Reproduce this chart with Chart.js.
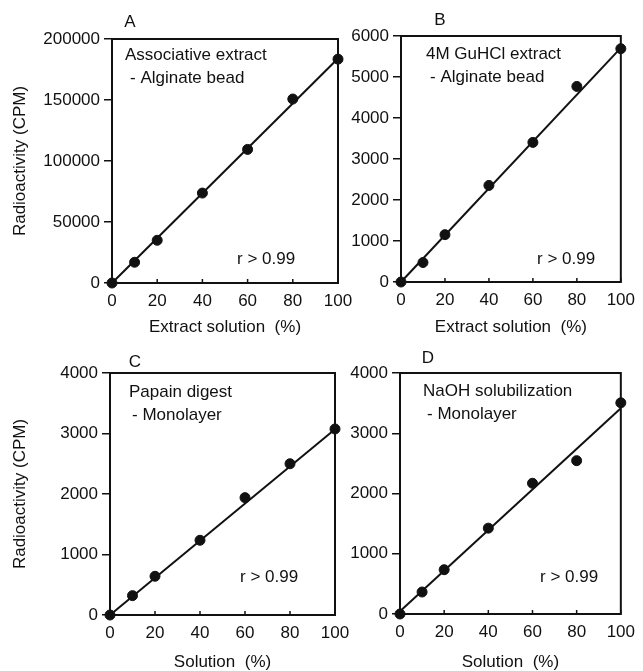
<!DOCTYPE html>
<html>
<head>
<meta charset="utf-8">
<title>Radioactivity vs. solution</title>
<script src="https://cdn.jsdelivr.net/npm/chart.js@4.4.1/dist/chart.umd.min.js"></script>
<style>
  html, body { margin: 0; padding: 0; background: #fff; }
  #wrap { position: relative; width: 643px; height: 671px; }
  #wrap canvas { position: absolute; left: 0; top: 0; }
</style>
</head>
<body>
<div id="wrap">
  <canvas id="chartA" width="643" height="671"></canvas>
  <canvas id="chartB" width="643" height="671"></canvas>
  <canvas id="chartC" width="643" height="671"></canvas>
  <canvas id="chartD" width="643" height="671"></canvas>
</div>
<script>
// values
const percent = [0, 10, 20, 40, 60, 80, 100]
const cpmA = [0, 17000, 35000, 73700, 109500, 150800, 183500]
const cpmB = [0, 475, 1155, 2355, 3405, 4770, 5690]
const cpmC = [0, 320, 640, 1235, 1940, 2500, 3075]
const cpmD = [0, 365, 735, 1425, 2170, 2545, 3505]

// regression lines, value at 0% and at 100%
const fitEnds = [0, 100]
const fitA = [0, 184000]
const fitB = [0, 5710]
const fitC = [0, 3070]
const fitD = [45, 3415]

// tick labels
const xTicks = [0, 20, 40, 60, 80, 100]
const yTicksA = [0, 50000, 100000, 150000, 200000]
const yTicksB = [0, 1000, 2000, 3000, 4000, 5000, 6000]
const yTicksCD = [0, 1000, 2000, 3000, 4000]

const letters = ["A", "B", "C", "D"]
const sampleLabels = [
  ["Associative extract", "- Alginate bead"],
  ["4M GuHCl extract", "- Alginate bead"],
  ["Papain digest", "- Monolayer"],
  ["NaOH solubilization", "- Monolayer"],
]
const rLabel = "r > 0.99"
const xTitles = ["Extract solution  (%)", "Extract solution  (%)", "Solution  (%)", "Solution  (%)"]
const yTitle = "Radioactivity (CPM)"

const FONT = "'Liberation Sans', Arial, Helvetica, sans-serif"
const INK = "#111"
Chart.defaults.font.family = FONT
Chart.defaults.font.size = 17
Chart.defaults.color = INK

// where each panel sits on the page (chart area l, t, r, b)
const layouts = [
  { area: [112, 39, 338, 283], axisLeft: 0, axisBottom: 335.5, yTitle: true, letter: [18, -17], note: [13, 16, 5], rNote: [125, -24] },
  { area: [401, 36, 628, 282], axisLeft: 345, axisBottom: 335.5, yTitle: false, letter: [39, -16], note: [25, 18, 4], rNote: [136, -23] },
  { area: [110, 373, 335, 615], axisLeft: 0, axisBottom: 671, yTitle: true, letter: [25, -11], note: [19, 19, 3], rNote: [130, -38] },
  { area: [400, 373, 627, 614], axisLeft: 345, axisBottom: 671, yTitle: false, letter: [28, -15], note: [23, 18, 4], rNote: [140, -37] },
]

// frame, inward x ticks and the panel texts
const panelDecor = {
  id: "panelDecor",
  beforeDatasetsDraw(chart, args, opts) {
    const { ctx, chartArea: a } = chart
    const x = chart.scales.x
    ctx.save()
    ctx.strokeStyle = INK
    ctx.lineWidth = 2
    ctx.strokeRect(a.left, a.top, a.right - a.left, a.bottom - a.top)
    ctx.lineWidth = 1.5
    x.ticks.forEach((t) => {
      const px = x.getPixelForValue(t.value)
      ctx.beginPath()
      ctx.moveTo(px, a.bottom)
      ctx.lineTo(px, a.bottom - 4)
      ctx.stroke()
    })
    ctx.restore()
  },
  afterDraw(chart, args, opts) {
    const { ctx, chartArea: a } = chart
    const lay = layouts[opts.index]
    ctx.save()
    ctx.fillStyle = INK
    ctx.font = "17px " + FONT
    ctx.textBaseline = "middle"
    ctx.textAlign = "center"
    ctx.fillText(letters[opts.index], a.left + lay.letter[0], a.top + lay.letter[1])
    ctx.textAlign = "left"
    const [dx, dy, indent] = lay.note
    ctx.fillText(sampleLabels[opts.index][0], a.left + dx, a.top + dy)
    ctx.fillText(sampleLabels[opts.index][1], a.left + dx + indent, a.top + dy + 23)
    ctx.fillText(rLabel, a.left + lay.rNote[0], a.bottom + lay.rNote[1])
    ctx.restore()
  },
}

function makePanel(i, cpm, fit, yTicks) {
  const lay = layouts[i]
  const [l, t, r, b] = lay.area
  const points = percent.map((x, k) => ({ x: x, y: cpm[k] }))
  const line = fitEnds.map((x, k) => ({ x: x, y: fit[k] }))

  return new Chart(document.getElementById("chart" + letters[i]), {
    type: "scatter",
    data: {
      datasets: [
        { data: line, showLine: true, borderColor: INK, borderWidth: 2, pointRadius: 0, clip: false },
        { data: points, backgroundColor: INK, borderColor: INK, pointRadius: 5, clip: false },
      ],
    },
    options: {
      responsive: false,
      animation: false,
      events: [],
      layout: { padding: { left: lay.axisLeft, top: t, right: 643 - r, bottom: 671 - lay.axisBottom } },
      plugins: {
        legend: { display: false },
        tooltip: { enabled: false },
        panelDecor: { index: i },
      },
      scales: {
        x: {
          type: "linear",
          min: 0,
          max: 100,
          afterBuildTicks: (s) => { s.ticks = xTicks.map((v) => ({ value: v })) },
          afterFit: (s) => { s.height = lay.axisBottom - b },
          grid: { display: false, drawTicks: false },
          border: { display: false },
          ticks: { padding: 8, color: INK, autoSkip: false, maxRotation: 0, callback: (v) => String(v) },
          title: { display: true, text: xTitles[i], color: INK, font: { size: 17, lineHeight: 1 }, padding: { top: 0, bottom: 0 } },
        },
        y: {
          type: "linear",
          min: 0,
          max: yTicks[yTicks.length - 1],
          afterBuildTicks: (s) => { s.ticks = yTicks.map((v) => ({ value: v })) },
          afterFit: (s) => { s.width = l - lay.axisLeft },
          grid: { display: true, drawOnChartArea: false, drawTicks: true, tickLength: 8, color: INK, lineWidth: 1.5 },
          border: { display: false },
          ticks: { padding: 4, color: INK, autoSkip: false, callback: (v) => String(v) },
          title: { display: lay.yTitle, text: yTitle, color: INK, padding: { top: 10, bottom: 0 } },
        },
      },
    },
    plugins: [panelDecor],
  })
}

makePanel(0, cpmA, fitA, yTicksA)
makePanel(1, cpmB, fitB, yTicksB)
makePanel(2, cpmC, fitC, yTicksCD)
makePanel(3, cpmD, fitD, yTicksCD)
</script>
</body>
</html>
